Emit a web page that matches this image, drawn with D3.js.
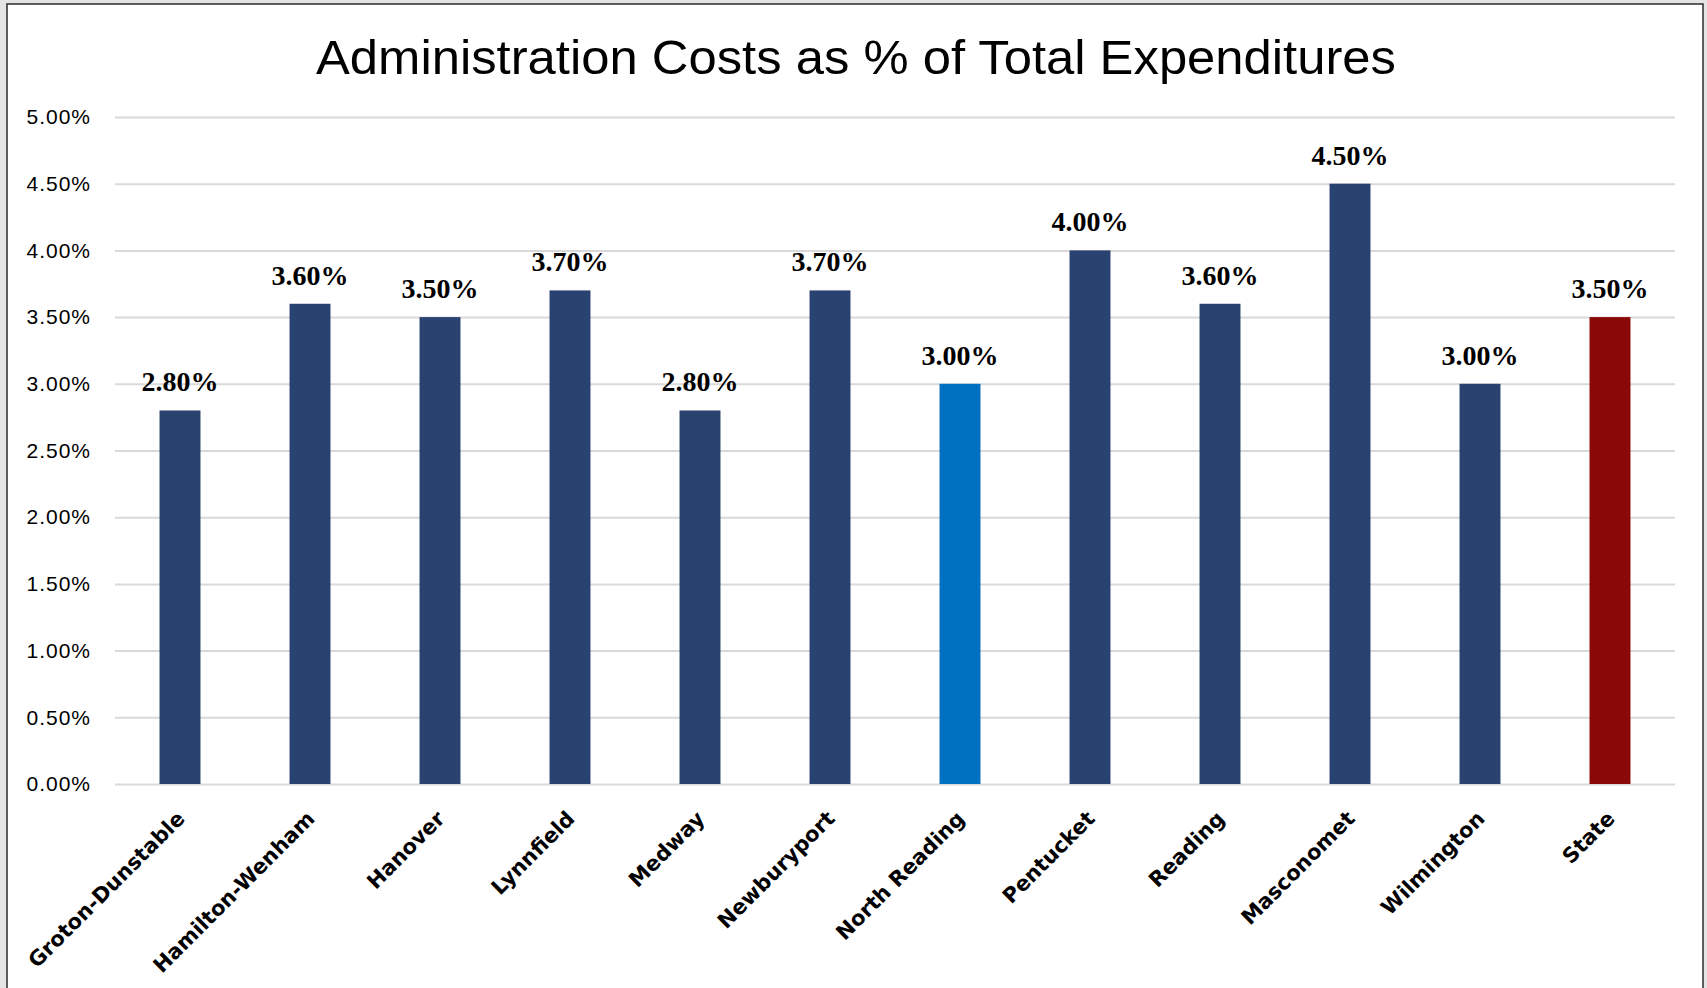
<!DOCTYPE html>
<html>
<head>
<meta charset="utf-8">
<script src="https://cdn.jsdelivr.net/npm/d3@7"></script>
<style>
  body { margin: 0; background: #e4e4e4; }
  svg { display: block; }
</style>
</head>
<body>
<script>
// chart data
var districts = ["Groton-Dunstable", "Hamilton-Wenham", "Hanover", "Lynnfield", "Medway",
  "Newburyport", "North Reading", "Pentucket", "Reading", "Masconomet", "Wilmington", "State"];
var adminPct = [2.8, 3.6, 3.5, 3.7, 2.8, 3.7, 3.0, 4.0, 3.6, 4.5, 3.0, 3.5];
var barColors = ["#2a4270", "#2a4270", "#2a4270", "#2a4270", "#2a4270", "#2a4270",
  "#0070c0", "#2a4270", "#2a4270", "#2a4270", "#2a4270", "#8b0808"];
var yTicks = [0, 0.5, 1, 1.5, 2, 2.5, 3, 3.5, 4, 4.5, 5];

var width = 1707,
    height = 988;

var svg = d3.select("body").append("svg")
    .attr("width", width)
    .attr("height", height);

// white panel with dark frame
svg.append("rect")
    .attr("x", 7).attr("y", 4)
    .attr("width", 1696).attr("height", 1000)
    .attr("fill", "#fff")
    .attr("stroke", "#2b2b2b")
    .attr("stroke-width", 1.5);

var x = d3.scaleBand()
    .domain(districts)
    .range([115, 1675])
    .paddingInner(0.685)
    .paddingOuter(0.3425);

var y = d3.scaleLinear()
    .domain([0, 5])
    .range([784, 117]);

// title
svg.append("text")
    .attr("x", 856)
    .attr("y", 74)
    .attr("text-anchor", "middle")
    .attr("font-family", "'Century Gothic', 'Liberation Sans', Arial, sans-serif")
    .attr("font-size", 48)
    .attr("textLength", 1080)
    .attr("lengthAdjust", "spacingAndGlyphs")
    .attr("fill", "#000")
    .text("Administration Costs as % of Total Expenditures");

// gridlines + y labels
var yAxis = d3.axisLeft(y)
    .tickValues(yTicks)
    .tickSize(-(1675 - 115))
    .tickPadding(24)
    .tickFormat(function(d) { return d.toFixed(2) + "%"; });

var gy = svg.append("g")
    .attr("transform", "translate(115,0)")
    .call(yAxis);

gy.select(".domain").remove();
gy.selectAll(".tick line")
    .attr("stroke", "#d9d9d9")
    .attr("stroke-width", 2);
gy.selectAll(".tick text")
    .attr("font-family", "'Liberation Sans', Arial, sans-serif")
    .attr("font-size", 21)
    .attr("letter-spacing", 1)
    .attr("fill", "#000");

// bars
svg.append("g").selectAll("rect")
  .data(districts)
  .enter()
  .append("rect")
    .attr("x", function(d) { return x(d); })
    .attr("y", function(d, i) { return y(adminPct[i]); })
    .attr("width", x.bandwidth())
    .attr("height", function(d, i) { return y(0) - y(adminPct[i]); })
    .attr("fill", function(d, i) { return barColors[i]; });

// value labels
svg.append("g").selectAll("text")
  .data(districts)
  .enter()
  .append("text")
    .attr("x", function(d) { return x(d) + x.bandwidth() / 2; })
    .attr("y", function(d, i) { return y(adminPct[i]) - 19; })
    .attr("text-anchor", "middle")
    .attr("font-family", "'Liberation Serif', 'Times New Roman', serif")
    .attr("font-weight", "bold")
    .attr("font-size", 28)
    .attr("fill", "#000")
    .text(function(d, i) { return adminPct[i].toFixed(2) + "%"; });

// category labels
var xAxis = d3.axisBottom(x).tickSize(0).tickPadding(0);
var gx = svg.append("g")
    .attr("transform", "translate(0,784)")
    .call(xAxis);
gx.select(".domain").remove();
gx.selectAll(".tick text")
    .attr("font-family", "'DejaVu Sans', sans-serif")
    .attr("font-weight", "bold")
    .attr("font-size", 21)
    .attr("fill", "#000")
    .attr("text-anchor", "end")
    .attr("dy", null)
    .attr("y", 0)
    .attr("transform", "translate(6,36) rotate(-45)");
</script>
</body>
</html>
